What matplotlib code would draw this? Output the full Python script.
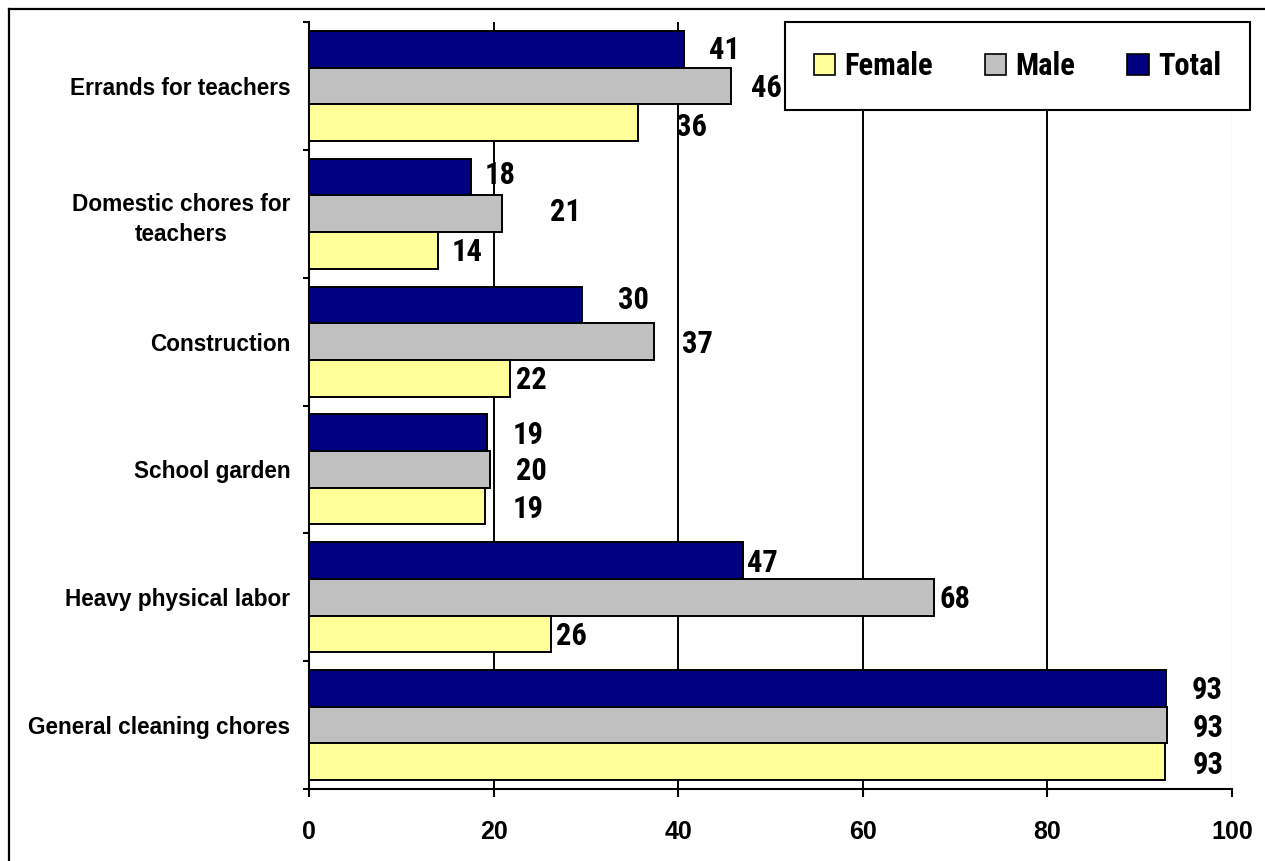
import matplotlib
matplotlib.use("Agg")
import matplotlib.pyplot as plt
import numpy as np
from matplotlib import font_manager
from matplotlib.font_manager import FontProperties
from matplotlib.lines import Line2D
from matplotlib.patches import Patch

# Data (top category first)
categories = [
    "Errands for teachers",
    "Domestic chores for\nteachers",
    "Construction",
    "School garden",
    "Heavy physical labor",
    "General cleaning chores",
]
female = [35.6, 14.0, 21.8, 19.1, 26.2, 92.7]
male = [45.7, 20.9, 37.4, 19.6, 67.7, 93.0]
total = [40.6, 17.6, 29.6, 19.3, 47.0, 92.8]
x_ticks = [0, 20, 40, 60, 80, 100]

# where the value labels sit, pixels right of / above the bar end
female_nudge = [(54, -1), (29, 1), (21, 1), (43, 0), (21, 1), (44, 0)]
male_nudge = [(36, 1), (64, 5), (43, 1), (42, 1), (21, 1), (41, 0)]
total_nudge = [(41, 2), (29, 5), (51, 8), (41, 1), (20, 1), (42, 1)]

NAVY = "#000080"
GREY = "#C0C0C0"
YELLOW = "#FFFF99"


def narrow_bold_font(size):
    """Find some condensed bold face (the original uses Arial Narrow)."""
    fonts = font_manager.fontManager.ttflist
    bold = [f for f in fonts if f.weight in ("bold", 700, "heavy")]
    prefs = [
        lambda f: f.name == "Liberation Sans Narrow",
        lambda f: "Condensed" in f.name and "Roboto" in f.name,
        lambda f: f.name == "DejaVu Sans" and f.stretch == "condensed",
        lambda f: "Narrow" in f.name or "Condensed" in f.name,
        lambda f: f.stretch in ("condensed", "semi-condensed"),
    ]
    for test in prefs:
        hits = [f for f in bold if test(f) and "Oblique" not in f.fname
                and "Italic" not in f.fname]
        if hits:
            return FontProperties(fname=hits[0].fname, size=size)
    return FontProperties(family="Liberation Sans", weight="bold", size=size * 0.85)


plt.rcParams["font.family"] = ["Liberation Sans", "DejaVu Sans"]
plt.rcParams["font.weight"] = "bold"

value_font = narrow_bold_font(22)
legend_font = narrow_bold_font(22)

W, H = 1265, 861
fig = plt.figure(figsize=(W / 100, H / 100), dpi=100)
ax = fig.add_axes([309 / W, 72 / H, 923 / W, 767 / H])

y = np.arange(len(categories))
h = 0.287
kw = dict(height=h, edgecolor="black", linewidth=1.4, zorder=3)
b_total = ax.barh(y - h, total, color=NAVY, **kw)
b_male = ax.barh(y, male, color=GREY, **kw)
b_female = ax.barh(y + h, female, color=YELLOW, **kw)

for bars, vals, nudges in [(b_total, total, total_nudge),
                           (b_male, male, male_nudge),
                           (b_female, female, female_nudge)]:
    for bar, v, (dx, dy) in zip(bars, vals, nudges):
        ax.annotate(f"{round(v)}", xy=(v, bar.get_y() + bar.get_height() / 2),
                    xytext=(dx, dy), textcoords="offset pixels",
                    ha="center", va="center_baseline",
                    fontproperties=value_font, zorder=5)

ax.set_xlim(0, 100)
ax.set_ylim(len(categories) - 0.5, -0.5)
ax.set_xticks(x_ticks)
ax.set_xticklabels([str(t) for t in x_ticks], fontsize=18, fontweight="bold")
ax.tick_params(axis="x", direction="out", length=6, width=1.5, pad=16)

# category boundaries carry the tick marks, names sit at the centres
ax.set_yticks(np.arange(len(categories) + 1) - 0.5)
ax.set_yticklabels([])
ax.tick_params(axis="y", which="major", direction="out", length=4.5, width=1.5)
ax.set_yticks(y, minor=True)
ax.set_yticklabels(categories, minor=True, fontsize=16.3, fontweight="bold",
                   multialignment="center", linespacing=1.35)
ax.tick_params(axis="y", which="minor", length=0, pad=13.5)

ax.set_axisbelow(True)
ax.xaxis.grid(True, color="black", linewidth=1.4)
ax.xaxis.get_gridlines()[-1].set_color("#b0b0b0")
ax.xaxis.get_gridlines()[-1].set_linewidth(0.8)

for side in ["top", "right"]:
    ax.spines[side].set_visible(False)
for side in ["left", "bottom"]:
    ax.spines[side].set_linewidth(1.5)

handles = [Patch(facecolor=YELLOW, edgecolor="black", linewidth=1.2),
           Patch(facecolor=GREY, edgecolor="black", linewidth=1.2),
           Patch(facecolor=NAVY, edgecolor="black", linewidth=1.2)]
leg = fig.legend(handles, ["Female", "Male", "Total"], ncol=3,
                 loc="upper left", mode="expand",
                 bbox_to_anchor=(785 / W, 1 - 115 / H, 465 / W, 93 / H),
                 borderaxespad=0, borderpad=0.95, handlelength=0.7,
                 handleheight=0.7, handletextpad=0.3, columnspacing=1.5,
                 fancybox=False, framealpha=1, edgecolor="black",
                 prop=legend_font)
leg.get_frame().set_linewidth(1.5)
leg.set_zorder(10)

# outer chart border (only the top and left edges fall inside the image)
fig.add_artist(Line2D([9 / W, 1.05], [1 - 9 / H, 1 - 9 / H],
                      transform=fig.transFigure, color="black", linewidth=1.6))
fig.add_artist(Line2D([9 / W, 9 / W], [-0.05, 1 - 9 / H],
                      transform=fig.transFigure, color="black", linewidth=1.6))

fig.savefig("out.png", dpi=100)
